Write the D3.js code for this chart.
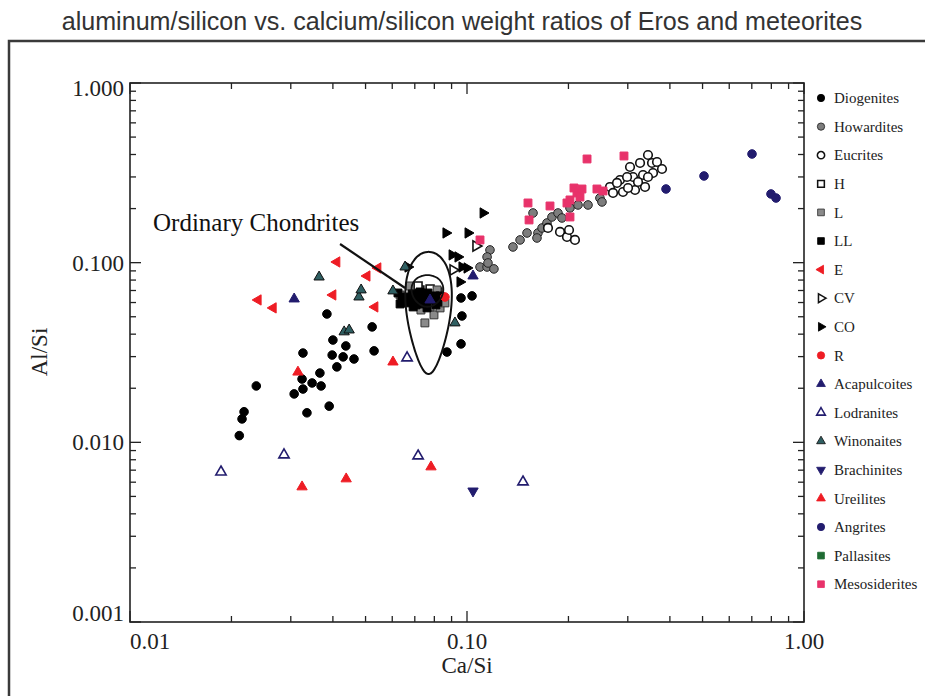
<!DOCTYPE html>
<html><head><meta charset="utf-8">
<script src="https://cdn.jsdelivr.net/npm/d3@7/dist/d3.min.js"></script>
<style>body{margin:0;background:#fff}svg{display:block}</style>
</head><body><svg id="c" width="925" height="696"></svg>
<script>
// ---- data (Ca/Si, Al/Si) ----
const diogenites=[[0.0384,0.0518],[0.0400,0.0371],[0.0437,0.0344],[0.0326,0.0314],[0.0398,0.0306],[0.0429,0.0299],[0.0462,0.0291],[0.0411,0.0263],[0.0366,0.0243],[0.0324,0.0225],[0.0347,0.0214],[0.0369,0.0206],[0.0237,0.0206],[0.0326,0.0198],[0.0307,0.0186],[0.0390,0.0159],[0.0335,0.0146],[0.0218,0.0148],[0.0215,0.0135],[0.0211,0.0109],[0.0523,0.0439],[0.0530,0.0323],[0.0960,0.0636],[0.1035,0.0653],[0.0966,0.0505],[0.0960,0.0353],[0.0872,0.0318]];
const howardites=[[0.1369,0.1223],[0.1507,0.1463],[0.157,0.189],[0.1624,0.1463],[0.167,0.156],[0.1727,0.1663],[0.1787,0.1796],[0.1862,0.189],[0.1913,0.1773],[0.2021,0.2016],[0.2135,0.2095],[0.2286,0.2095],[0.248,0.229],[0.2515,0.2177],[0.117,0.1177],[0.1147,0.1076],[0.1093,0.0946],[0.1147,0.0946],[0.1202,0.0923],[0.1154,0.0996],[0.1613,0.1372],[0.1437,0.1338]];
const eucrites=[[0.1739,0.156],[0.1888,0.1482],[0.198,0.139],[0.2091,0.1338],[0.2008,0.152],[0.2656,0.2638],[0.2844,0.2885],[0.2903,0.2474],[0.3046,0.3408],[0.3109,0.2998],[0.3152,0.2538],[0.3262,0.3588],[0.3329,0.3076],[0.3375,0.2638],[0.3444,0.3975],[0.354,0.3588],[0.3564,0.3155],[0.3663,0.3634],[0.379,0.3322],[0.3444,0.2998],[0.3217,0.2812],[0.2985,0.2998],[0.2787,0.2777],[0.2712,0.2443],[0.3005,0.2604]];
const chondH=[[0.0725,0.0705],[0.0777,0.0714],[0.082,0.0687],[0.0716,0.0742]];
const chondL=[[0.075,0.0462],[0.0798,0.0512],[0.0777,0.0567],[0.0832,0.056],[0.0633,0.0661],[0.0677,0.0742],[0.0815,0.0705],[0.086,0.0597],[0.073,0.0545]];
const chondLL=[[0.0655,0.0644],[0.0677,0.062],[0.0701,0.0636],[0.0716,0.0604],[0.0735,0.0653],[0.0755,0.062],[0.0777,0.0636],[0.0687,0.0669],[0.0725,0.0687],[0.0766,0.0678],[0.0793,0.062],[0.0668,0.0597],[0.0706,0.0582],[0.0745,0.0589],[0.0804,0.0653],[0.0641,0.062],[0.082,0.0604],[0.0624,0.0678],[0.0832,0.0653],[0.0809,0.0582],[0.0633,0.0589],[0.0692,0.0567],[0.0761,0.056]];
const enstatite=[[0.024,0.062],[0.0266,0.056],[0.0411,0.1009],[0.040,0.0661],[0.0544,0.0934],[0.0505,0.0843],[0.0533,0.0567]];
const cv=[[0.1063,0.1238],[0.0909,0.0911]];
const co=[[0.1116,0.189],[0.0866,0.1463],[0.1007,0.1463],[0.0903,0.1104],[0.094,0.1076],[0.0966,0.0946],[0.100,0.0934],[0.0953,0.0781],[0.0668,0.0946]];
const rumuruti=[[0.086,0.0644]];
const acapulcoites=[[0.0307,0.0628],[0.1042,0.0843],[0.0777,0.062]];
const lodranites=[[0.01862,0.00684],[0.02864,0.00851],[0.0716,0.0084],[0.1466,0.00602],[0.0664,0.0295]];
const winonaites=[[0.0364,0.0832],[0.0478,0.0644],[0.0485,0.0705],[0.0432,0.0412],[0.0447,0.0422],[0.0603,0.0696],[0.0655,0.0946],[0.0921,0.0462]];
const brachinites=[[0.1042,0.00536]];
const ureilites=[[0.0324,0.00565],[0.0438,0.00626],[0.0782,0.0073],[0.0315,0.0246],[0.0603,0.028]];
const angrites=[[0.701,0.4026],[0.505,0.3038],[0.3895,0.2571],[0.798,0.2412],[0.826,0.229]];
const pallasites=[[0.074,0.062]];
const mesosiderites=[[0.2271,0.3777],[0.2923,0.3925],[0.1517,0.2149],[0.1528,0.1729],[0.1763,0.2068],[0.2021,0.2234],[0.212,0.2443],[0.2194,0.2571],[0.2021,0.1796],[0.243,0.2571],[0.2533,0.2506],[0.198,0.2149],[0.2164,0.232],[0.1093,0.1338],[0.2077,0.2604]];
const legendNames=["Diogenites","Howardites","Eucrites","H","L","LL","E","CV","CO","R","Acapulcoites","Lodranites","Winonaites","Brachinites","Ureilites","Angrites","Pallasites","Mesosiderites"];
const xTickValues=[0.01,0.1,1], xTickLabels=["0.01","0.10","1.00"];
const yTickValues=[0.001,0.01,0.1,1], yTickLabels=["0.001","0.010","0.100","1.000"];
// ellipse (log-space centre & half-axes in decades)
const outerEllipse={cx:0.0769,cy:0.0525,ax:0.0655,ay:0.34,k:0.35};
const innerEllipse={cx:0.0763,cy:0.0696,ax:0.047,ay:0.088,k:0.1};
const pointer=[[0.0420,0.127],[0.0655,0.0723]];

// ---- styles ----
const NAVY="#221c6e", RED="#ee1c24";
const series=[
 {data:diogenites, shape:"circle", fill:"#000", stroke:"#000"},
 {data:howardites, shape:"circle", fill:"#7d7d7d", stroke:"#222"},
 {data:eucrites, shape:"circle", fill:"#fff", stroke:"#111"},
 {data:chondH, shape:"square", fill:"#fff", stroke:"#111"},
 {data:chondL, shape:"square", fill:"#8a8a8a", stroke:"#333"},
 {data:chondLL, shape:"square", fill:"#000", stroke:"#000"},
 {data:enstatite, shape:"left", fill:RED, stroke:RED},
 {data:cv, shape:"right", fill:"#fff", stroke:"#111"},
 {data:co, shape:"right", fill:"#000", stroke:"#000"},
 {data:rumuruti, shape:"circle", fill:RED, stroke:RED},
 {data:acapulcoites, shape:"up", fill:NAVY, stroke:NAVY},
 {data:lodranites, shape:"up", fill:"#fff", stroke:NAVY},
 {data:winonaites, shape:"up", fill:"#2f5f62", stroke:"#111"},
 {data:brachinites, shape:"down", fill:NAVY, stroke:NAVY},
 {data:ureilites, shape:"up", fill:RED, stroke:RED},
 {data:angrites, shape:"circle", fill:NAVY, stroke:NAVY},
 {data:pallasites, shape:"square", fill:"#1f6b33", stroke:"#1f6b33"},
 {data:mesosiderites, shape:"square", fill:"#e8326a", stroke:"#e8326a"}
];
// drawing order (indices into series)
const drawOrder=[0,1,2,16,3,4,5,6,7,8,9,10,11,12,13,14,15,17];

const svg=d3.select("#c");
const L=130,R=804,T=83,B=622;
const x=d3.scaleLog().domain([0.01,1]).range([L,R]);
const y=d3.scaleLog().domain([0.001,1]).range([B,T]);

// outer frame
svg.append("path").attr("d","M9,700 L9,41 L930,41").attr("fill","none").attr("stroke","#3a3a3a").attr("stroke-width",2.5);
// title
svg.append("text").attr("x",462).attr("y",30).attr("text-anchor","middle")
 .attr("font-family","Liberation Sans, Arial, sans-serif").attr("font-size",25.1).attr("fill","#333")
 .text("aluminum/silicon vs. calcium/silicon weight ratios of Eros and meteorites");

// plot box
svg.append("rect").attr("x",L).attr("y",T).attr("width",R-L).attr("height",B-T).attr("fill","none").attr("stroke","#222").attr("stroke-width",1.6);

// ticks (all four sides, inward)
const g=svg.append("g").attr("stroke","#222").attr("stroke-width",1.3);
const xAll=x.ticks(), yAll=y.ticks();
xAll.forEach(v=>{const major=xTickValues.some(t=>Math.abs(t-v)<1e-9);const len=major?11:6;
 g.append("line").attr("x1",x(v)).attr("x2",x(v)).attr("y1",B).attr("y2",B-len);
 g.append("line").attr("x1",x(v)).attr("x2",x(v)).attr("y1",T).attr("y2",T+len);});
yAll.forEach(v=>{const major=yTickValues.some(t=>Math.abs(t-v)<1e-9);const len=major?11:6;
 g.append("line").attr("y1",y(v)).attr("y2",y(v)).attr("x1",L).attr("x2",L+len);
 g.append("line").attr("y1",y(v)).attr("y2",y(v)).attr("x1",R).attr("x2",R-len);});

const serif="Liberation Serif, Times New Roman, serif";
xTickValues.forEach((v,i)=>{
 svg.append("text").attr("x",x(v)+(i===0?20:0)).attr("y",649).attr("text-anchor","middle")
  .attr("font-family",serif).attr("font-size",23).attr("fill","#222").text(xTickLabels[i]);});
yTickValues.forEach((v,i)=>{
 const dy=i===0?-9:(i===yTickValues.length-1?5:0);
 svg.append("text").attr("x",124).attr("y",y(v)+dy).attr("dy","0.35em").attr("text-anchor","end")
  .attr("font-family",serif).attr("font-size",23).attr("fill","#222").text(yTickLabels[i]);});
svg.append("text").attr("x",(L+R)/2).attr("y",673).attr("text-anchor","middle")
 .attr("font-family",serif).attr("font-size",23).attr("fill","#222").text("Ca/Si");
svg.append("text").attr("transform","translate(47,352) rotate(-90)").attr("text-anchor","middle")
 .attr("font-family",serif).attr("font-size",23).attr("fill","#222").text("Al/Si");

// symbols
function symPath(shape){
 if(shape==="circle") return d3.symbol(d3.symbolCircle,58)();
 if(shape==="square") return d3.symbol(d3.symbolSquare,62)();
 return d3.symbol(d3.symbolTriangle,46)();
}
function rot(shape){return {up:0,down:180,left:-90,right:90}[shape]||0;}

const pg=svg.append("g");
drawOrder.forEach(idx=>{const s=series[idx];
 pg.selectAll(null).data(s.data).enter().append("path")
  .attr("d",symPath(s.shape))
  .attr("transform",d=>`translate(${x(d[0])},${y(d[1])}) rotate(${rot(s.shape)})`)
  .attr("fill",s.fill).attr("stroke",s.stroke).attr("stroke-width",s.fill==="#fff"?1.6:1);
});

// ellipses in log space
function eggPath(e){
 const pts=d3.range(0,360,4).map(a=>{const t=a*Math.PI/180;
  const lx=Math.log10(e.cx)+e.ax*Math.cos(t)*(1+e.k*Math.sin(t));
  const ly=Math.log10(e.cy)+e.ay*Math.sin(t);
  return [x(Math.pow(10,lx)),y(Math.pow(10,ly))];});
 return d3.line().curve(d3.curveCardinalClosed)(pts);
}
svg.append("path").attr("d",eggPath(outerEllipse)).attr("fill","none").attr("stroke","#111").attr("stroke-width",2);
svg.append("path").attr("d",eggPath(innerEllipse)).attr("fill","none").attr("stroke","#111").attr("stroke-width",1.8);
svg.append("line").attr("x1",x(pointer[0][0])).attr("y1",y(pointer[0][1])).attr("x2",x(pointer[1][0])).attr("y2",y(pointer[1][1]))
 .attr("stroke","#111").attr("stroke-width",2.2);
svg.append("text").attr("x",153).attr("y",231).attr("font-family",serif).attr("font-size",25).attr("fill","#111").text("Ordinary Chondrites");

// legend
const lg=svg.append("g");
series.forEach((s,i)=>{
 const yy=98+i*28.6;
 lg.append("path").attr("d",symPath(s.shape))
  .attr("transform",`translate(821,${yy}) rotate(${rot(s.shape)}) scale(0.85)`)
  .attr("fill",s.fill).attr("stroke",s.stroke).attr("stroke-width",s.fill==="#fff"?1.8:1);
 lg.append("text").attr("x",834).attr("y",yy).attr("dy","0.35em").attr("font-family",serif)
  .attr("font-size",15).attr("fill","#222").text(legendNames[i]);
});
</script></body></html>
